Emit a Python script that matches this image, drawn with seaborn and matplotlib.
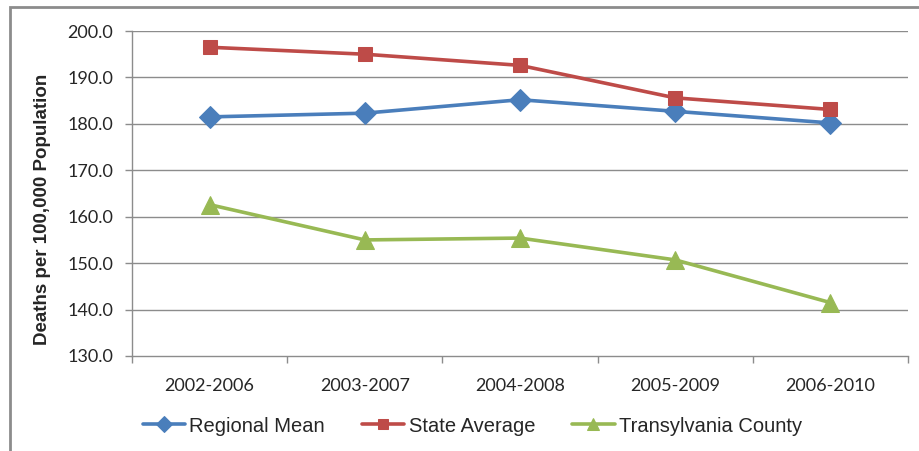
import pandas as pd
import matplotlib.pyplot as plt
import seaborn as sns
from matplotlib.patches import Rectangle

sns.set_theme(style="white")
plt.rcParams['font.family'] = ['Liberation Sans', 'DejaVu Sans']

# Chart values
periods = ['2002-2006', '2003-2007', '2004-2008', '2005-2009', '2006-2010']
regional_mean = [181.5, 182.3, 185.2, 182.7, 180.2]
state_average = [196.5, 195.0, 192.6, 185.6, 183.1]
transylvania = [162.6, 155.0, 155.4, 150.7, 141.5]

series_names = ['Regional Mean', 'State Average', 'Transylvania County']
series_values = [regional_mean, state_average, transylvania]
colors = ['#4A7EBB', '#BE4B48', '#98B954']
markers = ['D', 's', '^']
marker_sizes = [11.5, 10, 13]

fig = plt.figure(figsize=(9.19, 4.51), dpi=100)
ax = fig.add_axes([132 / 919, 1 - 356 / 451, 776 / 919, 325 / 451])

# Outer chart border
fig.patches.append(Rectangle((10 / 919, -0.1), 1.2, 1 - 7 / 451 + 0.1, transform=fig.transFigure,
                             fill=False, edgecolor='#8c8c8c', linewidth=2))

x_pos = list(range(len(periods)))
for name, vals, c, m, ms in zip(series_names, series_values, colors, markers, marker_sizes):
    df = pd.DataFrame({'x': x_pos, 'y': vals})
    sns.lineplot(data=df, x='x', y='y', ax=ax, color=c, linewidth=2.6, marker=m,
                 markersize=ms, markeredgecolor=c, label=name, zorder=3)

ax.set_xlim(-0.5, len(periods) - 0.5)
ax.set_ylim(130, 200)
ax.set_yticks(range(130, 201, 10))
ax.set_yticklabels([f'{v:.1f}' for v in range(130, 201, 10)])
ax.set_xticks(x_pos)
ax.set_xticklabels(periods)
ax.set_xticks([i - 0.5 for i in range(len(periods) + 1)], minor=True)

for v in range(140, 201, 10):
    ax.axhline(v, color='#8c8c8c', linewidth=1, zorder=1)

for s in ['top', 'right']:
    ax.spines[s].set_visible(False)
for s in ['left', 'bottom']:
    ax.spines[s].set_color('#8c8c8c')
    ax.spines[s].set_linewidth(1)

ax.tick_params(axis='y', which='major', left=True, length=5, width=1, color='#8c8c8c',
               labelsize=13, labelcolor='#262626', pad=8.5)
ax.tick_params(axis='x', which='major', bottom=False, labelsize=13, labelcolor='#262626', pad=10)
ax.tick_params(axis='x', which='minor', bottom=True, length=5, width=1, color='#8c8c8c')
for lbl in ax.get_xticklabels() + ax.get_yticklabels():
    lbl.set_family(['Lato', 'DejaVu Sans'])

ax.set_xlabel('')
ax.set_ylabel('Deaths per 100,000 Population', fontsize=13.5, fontweight='bold')
ax.yaxis.set_label_coords(-0.105, 0.45)

handles, labels = ax.get_legend_handles_labels()
ax.get_legend().remove()
fig.legend(handles, labels, loc='center', bbox_to_anchor=(0.514, 1 - 426 / 451), ncol=3,
           frameon=False, fontsize=14.5, handlelength=2.1, columnspacing=1.85, handletextpad=0.2,
           markerscale=0.7)

fig.savefig('out.png', dpi=100)
